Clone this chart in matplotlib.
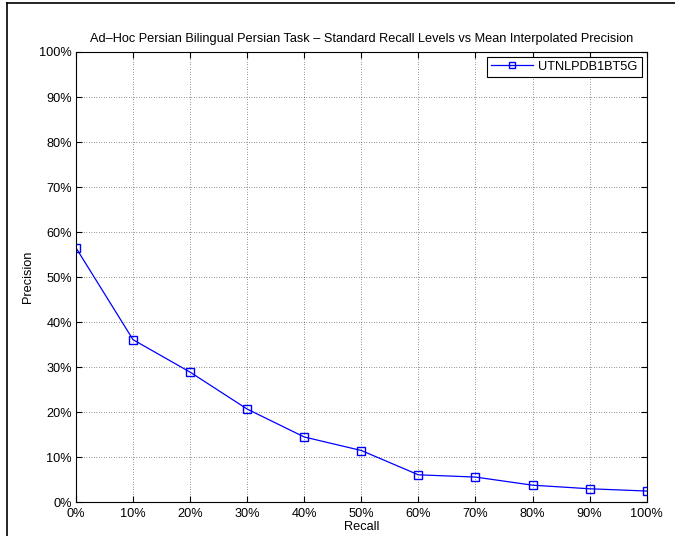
import matplotlib
matplotlib.use("Agg")
import matplotlib.pyplot as plt
from matplotlib.lines import Line2D
from matplotlib.ticker import FuncFormatter

plt.rcParams["font.family"] = ["Liberation Sans", "DejaVu Sans"]

recall = [0, 10, 20, 30, 40, 50, 60, 70, 80, 90, 100]
precision = [56.5, 36.1, 28.9, 20.7, 14.5, 11.5, 6.1, 5.6, 3.8, 3.0, 2.5]
run_name = "UTNLPDB1BT5G"
title = "Ad\u2013Hoc Persian Bilingual Persian Task \u2013 Standard Recall Levels vs Mean Interpolated Precision"

fs = 9.2
fig = plt.figure(figsize=(6.75, 5.36), dpi=100)
ax = fig.add_axes([0.1126, 0.0629, 0.8454, 0.8401])

ax.plot(recall, precision, color="blue", marker="s", markersize=6,
        markerfacecolor="none", markeredgecolor="blue", linewidth=0.9,
        label=run_name)

ax.set_xlim(0, 100)
ax.set_ylim(0, 100)
ax.set_xticks(range(0, 101, 10))
ax.set_yticks(range(0, 101, 10))
pct = FuncFormatter(lambda v, p: "%d%%" % v)
ax.xaxis.set_major_formatter(pct)
ax.yaxis.set_major_formatter(pct)
ax.tick_params(direction="in", top=True, right=True, labelsize=fs, length=4)
ax.tick_params(axis="x", pad=4)
ax.tick_params(axis="y", pad=3)
ax.grid(True, color="black", linestyle=(0, (1, 3)), linewidth=0.45)
for s in ax.spines.values():
    s.set_linewidth(0.8)

ax.set_xlabel("Recall", fontsize=fs, labelpad=1)
ax.set_ylabel("Precision", fontsize=fs, labelpad=4)
ax.set_title(title, fontsize=fs, pad=7)

leg = ax.legend(loc="upper right", fontsize=fs, fancybox=False, framealpha=1,
                edgecolor="black", borderaxespad=0.4, borderpad=0.3,
                handlelength=3.3, handletextpad=0.4, markerscale=0.7)
leg.get_frame().set_linewidth(0.8)

# partial frame seen at the top and left edges of the original image
fig.add_artist(Line2D([7 / 675, 7 / 675], [0, 1 - 3 / 536], color="black", linewidth=1.2))
fig.add_artist(Line2D([7 / 675, 1], [1 - 3 / 536, 1 - 3 / 536], color="black", linewidth=1.2))

fig.savefig("out.png", dpi=100)
